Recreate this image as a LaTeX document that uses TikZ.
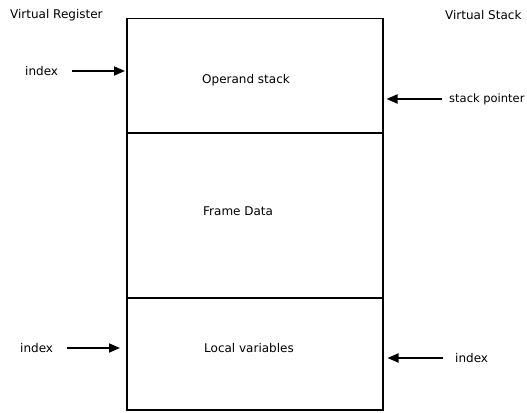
\documentclass[tikz,border=0pt]{standalone}
\usepackage{fontspec}
\setmainfont{DejaVu Sans}
\usetikzlibrary{arrows.meta}
\begin{document}
\begin{tikzpicture}[x=1pt,y=-1pt,
  font=\fontsize{12}{14}\selectfont,
  sect/.style={draw, line width=1.5pt, minimum width=256pt, inner sep=0pt, anchor=north west},
  lbl/.style={inner sep=0pt, anchor=west},
  arr/.style={line width=1.8pt, -{Triangle[length=11pt,width=9pt]}}]
\useasboundingbox (0,0) rectangle (527,412);
% stack frame sections
\node[sect, minimum height=114pt] (ops) at (126,18) {};
\node[sect, minimum height=165pt] (frame) at (126,132) {};
\node[sect, minimum height=112pt] (loc) at (126,297) {};
% section texts
\node[lbl] (opstxt) at (202,80) {Operand stack};
\node[lbl] (frametxt) at (203,211) {Frame Data};
\node[lbl] (loctxt) at (204,348) {Local variables};
% headings
\node[lbl] (vreg) at (10,15) {Virtual Register};
\node[lbl] (vstk) at (445,15) {Virtual Stack};
% side labels
\node[lbl] (idxa) at (25,71) {index};
\node[lbl] (idxb) at (20,348) {index};
\node[lbl, font=\fontsize{11.5}{14}\selectfont] (sp) at (449,99) {stack pointer};
\node[lbl] (idxc) at (455,358) {index};
% arrows
\draw[arr, shorten <=14pt, shorten >=1pt] (idxa.east) -- (ops.west |- idxa.east);
\draw[arr, shorten <=14pt, shorten >=6pt] (idxb.east) -- (loc.west |- idxb.east);
\draw[arr, shorten <=7pt, shorten >=3pt] (sp.west) -- (ops.east |- sp.west);
\draw[arr, shorten <=12pt, shorten >=4pt] (idxc.west) -- (loc.east |- idxc.west);
\end{tikzpicture}
\end{document}
